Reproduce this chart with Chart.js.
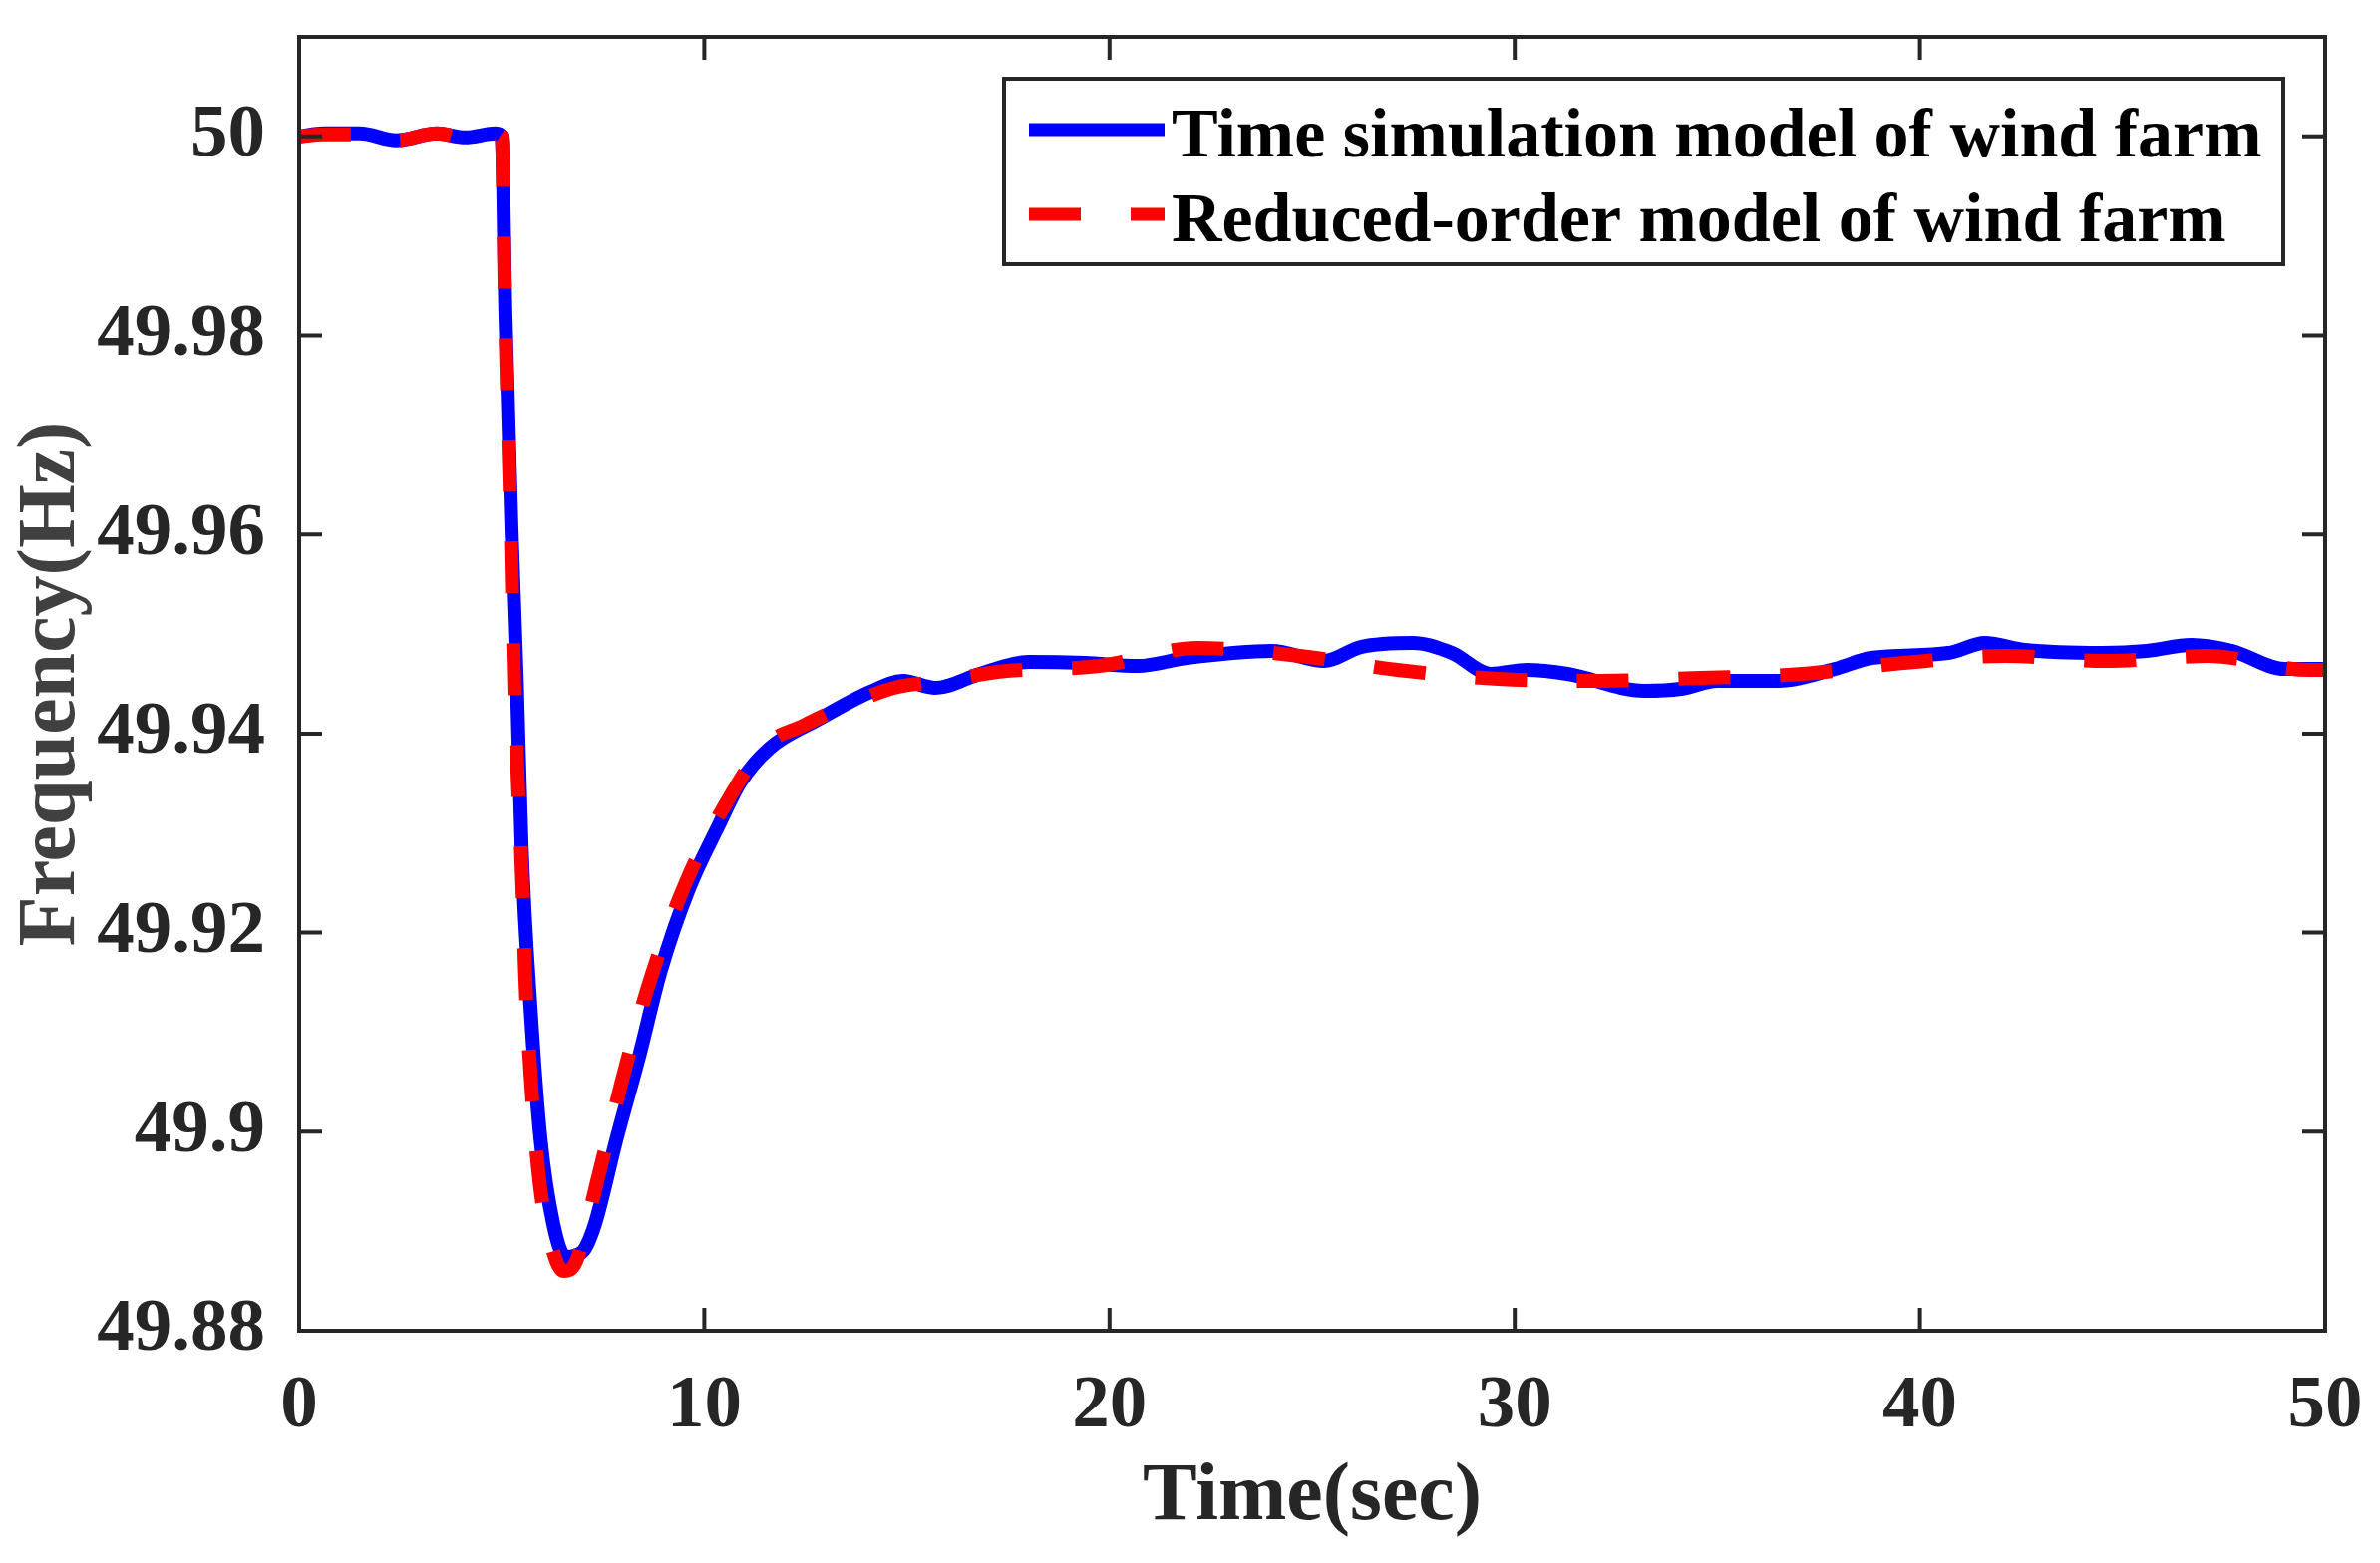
<!DOCTYPE html>
<html>
<head>
<meta charset="utf-8">
<title>Frequency response of wind farm models</title>
<script src="https://cdn.jsdelivr.net/npm/chart.js@4.4.1/dist/chart.umd.min.js"></script>
<style>
html, body { margin: 0; padding: 0; background: #ffffff; }
canvas { display: block; }
</style>
</head>
<body>
<canvas id="freqChart" width="2387" height="1568"></canvas>
<script>
// Time simulation model of wind farm (blue, solid)
var simTime = [0, 0.6, 1.5, 2.4, 3.4, 4.1, 4.85, 5.0, 5.09, 5.24, 5.37, 5.49, 5.72, 5.96, 6.27, 6.58,
    6.85, 7.05, 7.31, 7.83, 8.4, 8.92, 9.63, 10.37, 10.89, 11.6, 12.8, 14.1, 14.9, 15.7, 16.8, 18.0,
    19.4, 20.7, 21.9, 24.0, 25.3, 26.2, 27.5, 28.45, 29.4, 30.3, 31.3, 33.2, 34.1, 35.0, 36.5, 37.9,
    38.8, 40.7, 41.6, 42.6, 44.5, 45.6, 46.7, 47.7, 49.0, 50];
var simFreq = [50.0000, 50.0003, 50.0003, 49.9996, 50.0003, 49.9999, 50.0003, 50.0000, 49.9824, 49.9607,
    49.9456, 49.9288, 49.9119, 49.8992, 49.8908, 49.8874, 49.8876, 49.8882, 49.8908, 49.8992, 49.9077,
    49.9161, 49.9245, 49.9309, 49.9351, 49.9385, 49.9414, 49.9442, 49.9453, 49.9446, 49.9460, 49.9472,
    49.9471, 49.9468, 49.9476, 49.9483, 49.9473, 49.9487, 49.9491, 49.9481, 49.9460, 49.9464, 49.9460,
    49.9443, 49.9445, 49.9453, 49.9453, 49.9465, 49.9476, 49.9481, 49.9491, 49.9484, 49.9481, 49.9483,
    49.9489, 49.9483, 49.9465, 49.9465];

// Reduced-order model of wind farm (red, dashed)
var redTime = [0, 0.6, 1.5, 2.4, 3.4, 4.1, 4.85, 5.0, 5.08, 5.22, 5.31, 5.39, 5.5, 5.58, 5.72, 5.93,
    6.2, 6.53, 6.84, 7.38, 7.98, 8.66, 9.54, 10.68, 11.5, 12.44, 13.5, 14.78, 15.8, 17.24, 19.75,
    22.17, 24.7, 27.1, 29.6, 32.1, 34.6, 37.1, 39.6, 42.1, 44.6, 47.1, 49.6, 50];
var redFreq = [50.0000, 50.0002, 50.0002, 49.9996, 50.0003, 49.9999, 50.0002, 50.0000, 49.9830, 49.9610,
    49.9448, 49.9360, 49.9258, 49.9157, 49.9053, 49.8951, 49.8890, 49.8860, 49.8870, 49.8954, 49.9053,
    49.9152, 49.9250, 49.9340, 49.9388, 49.9408, 49.9428, 49.9447, 49.9452, 49.9462, 49.9468, 49.9486,
    49.9478, 49.9464, 49.9455, 49.9453, 49.9456, 49.9460, 49.9471, 49.9478, 49.9473, 49.9478, 49.9464,
    49.9464];

var seriesNames = ['Time simulation model of wind farm', 'Reduced-order model of wind farm'];

var xTicks = [0, 10, 20, 30, 40, 50];
var yTicks = [49.88, 49.9, 49.92, 49.94, 49.96, 49.98, 50];
var yTickLabels = ['49.88', '49.9', '49.92', '49.94', '49.96', '49.98', '50'];

var axisColor = '#262626';
var serif = "'Liberation Serif', 'Times New Roman', serif";

function toPoints(xs, ys) {
    var pts = [];
    for (var i = 0; i < xs.length; i++) {
        pts.push({ x: xs[i], y: ys[i] });
    }
    return pts;
}

// keep the plot box where the layout padding puts it (no room reserved for edge labels)
function noEdgePadding(scale) {
    scale.paddingTop = 0;
    scale.paddingBottom = 0;
    scale.paddingLeft = 0;
    scale.paddingRight = 0;
}

// MATLAB style box: frame, inward ticks on all sides, boxed legend
var matlabBox = {
    id: 'matlabBox',
    afterDatasetsDraw: function (chart) {
        var ctx = chart.ctx;
        var a = chart.chartArea;
        var xs = chart.scales.x;
        var ys = chart.scales.y;
        var tick = 23;

        ctx.save();
        ctx.strokeStyle = axisColor;
        ctx.lineWidth = 4;
        ctx.strokeRect(a.left, a.top, a.right - a.left, a.bottom - a.top);

        ctx.beginPath();
        xTicks.forEach(function (v) {
            var px = xs.getPixelForValue(v);
            ctx.moveTo(px, a.bottom);
            ctx.lineTo(px, a.bottom - tick);
            ctx.moveTo(px, a.top);
            ctx.lineTo(px, a.top + tick);
        });
        yTicks.forEach(function (v) {
            var py = ys.getPixelForValue(v);
            ctx.moveTo(a.left, py);
            ctx.lineTo(a.left + tick, py);
            ctx.moveTo(a.right, py);
            ctx.lineTo(a.right - tick, py);
        });
        ctx.stroke();

        // legend box in the upper right corner
        var boxRight = a.right - 42;
        var boxLeft = a.left + 707;
        var boxTop = a.top + 42;
        var boxHeight = 186;
        ctx.fillStyle = '#ffffff';
        ctx.fillRect(boxLeft, boxTop, boxRight - boxLeft, boxHeight);
        ctx.strokeRect(boxLeft, boxTop, boxRight - boxLeft, boxHeight);

        var rows = [boxTop + 51, boxTop + 136];
        chart.data.datasets.forEach(function (ds, i) {
            var y = rows[i];
            ctx.beginPath();
            ctx.setLineDash(ds.borderDash || []);
            ctx.lineCap = 'butt';
            ctx.lineWidth = 13;
            ctx.strokeStyle = ds.borderColor;
            ctx.moveTo(boxLeft + 25, y);
            ctx.lineTo(boxLeft + 161, y);
            ctx.stroke();
            ctx.setLineDash([]);

            ctx.fillStyle = '#000000';
            ctx.font = 'bold 70px ' + serif;
            ctx.textAlign = 'left';
            ctx.textBaseline = 'alphabetic';
            ctx.fillText(ds.label, boxLeft + 168, y + 27);
        });
        ctx.restore();
    }
};

var ctxFreq = document.getElementById('freqChart').getContext('2d');
var chart = new Chart(ctxFreq, {
    type: 'line',
    data: {
        datasets: [
            {
                label: seriesNames[0],
                data: toPoints(simTime, simFreq),
                borderColor: '#0000ff',
                borderWidth: 14,
                borderJoinStyle: 'round',
                pointRadius: 0,
                cubicInterpolationMode: 'monotone',
                fill: false,
                order: 1
            },
            {
                label: seriesNames[1],
                data: toPoints(redTime, redFreq),
                borderColor: '#ff0000',
                borderWidth: 14,
                borderDash: [52, 50],
                borderCapStyle: 'butt',
                pointRadius: 0,
                cubicInterpolationMode: 'monotone',
                fill: false,
                order: 0
            }
        ]
    },
    options: {
        responsive: false,
        animation: false,
        devicePixelRatio: 1,
        layout: { padding: { top: 37, right: 55, left: 0, bottom: 0 } },
        plugins: {
            legend: { display: false },
            tooltip: { enabled: false }
        },
        scales: {
            x: {
                type: 'linear',
                min: 0,
                max: 50,
                afterBuildTicks: function (scale) {
                    scale.ticks = xTicks.map(function (v) { return { value: v }; });
                },
                afterFit: function (scale) {
                    scale.height = 233;
                    noEdgePadding(scale);
                },
                grid: { display: false },
                border: { display: false },
                ticks: {
                    color: axisColor,
                    padding: 24,
                    maxRotation: 0,
                    autoSkip: false,
                    font: { family: serif, weight: 'bold', size: 75 }
                },
                title: {
                    display: true,
                    text: 'Time(sec)',
                    color: axisColor,
                    padding: { top: 0, bottom: 16 },
                    font: { family: serif, weight: 'bold', size: 82 }
                }
            },
            y: {
                type: 'linear',
                min: 49.88,
                max: 50.01,
                afterBuildTicks: function (scale) {
                    scale.ticks = yTicks.map(function (v) { return { value: v }; });
                },
                afterFit: function (scale) {
                    scale.width = 300;
                    noEdgePadding(scale);
                },
                grid: { display: false },
                border: { display: false },
                ticks: {
                    color: axisColor,
                    padding: 26,
                    autoSkip: false,
                    font: { family: serif, weight: 'bold', size: 75 },
                    callback: function (value) {
                        var i = yTicks.indexOf(value);
                        return i >= 0 ? yTickLabels[i] : '';
                    }
                },
                title: {
                    display: true,
                    text: 'Frequency(Hz)',
                    color: '#404040',
                    padding: { top: 4, bottom: 0 },
                    font: { family: serif, weight: 'bold', size: 82 }
                }
            }
        }
    },
    plugins: [matlabBox]
});
</script>
</body>
</html>
